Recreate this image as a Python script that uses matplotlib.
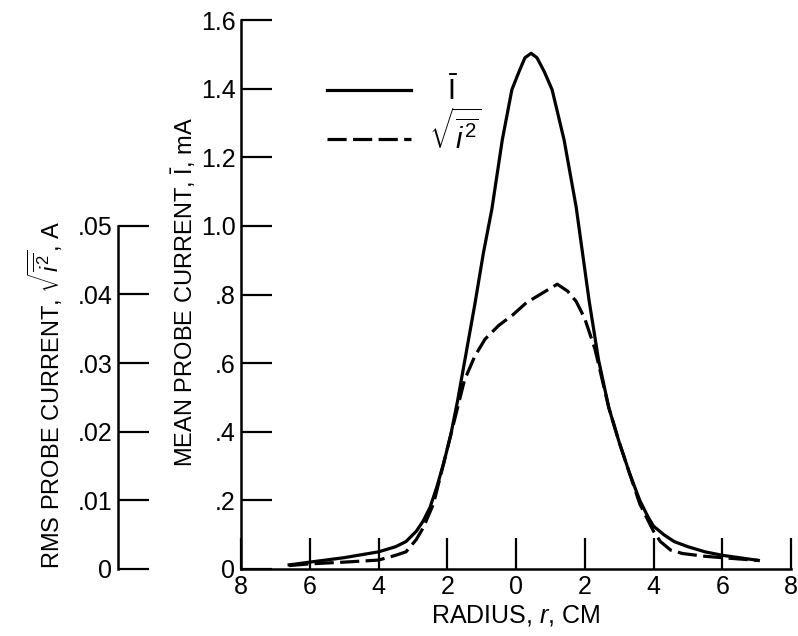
import matplotlib.pyplot as plt

plt.rcParams['font.family'] = ['Liberation Sans', 'DejaVu Sans']
plt.rcParams['mathtext.fontset'] = 'custom'
plt.rcParams['mathtext.rm'] = 'Liberation Sans'
plt.rcParams['mathtext.it'] = 'Liberation Sans:italic'

# mean probe current, mA
r_mean = [-6.6, -6, -5, -4, -3.5, -3.2, -2.9, -2.7, -2.5, -2.3, -2.1, -1.9, -1.7, -1.45,
          -1.2, -0.95, -0.7, -0.4, -0.12, 0.09, 0.26, 0.44, 0.61, 0.82, 1.05, 1.4, 1.75,
          2.13, 2.4, 2.7, 3.0, 3.3, 3.6, 3.85, 4.0, 4.3, 4.6, 5.0, 5.5, 6.0, 7.05]
i_mean = [0.012, 0.02, 0.033, 0.05, 0.065, 0.08, 0.11, 0.14, 0.18, 0.24, 0.31, 0.39, 0.49, 0.63,
          0.77, 0.92, 1.05, 1.25, 1.397, 1.45, 1.49, 1.503, 1.49, 1.45, 1.397, 1.25, 1.055,
          0.78, 0.61, 0.47, 0.37, 0.28, 0.20, 0.15, 0.125, 0.10, 0.08, 0.065, 0.05, 0.04, 0.025]

# rms probe current, A
r_rms = [-6.6, -6, -5, -4, -3.5, -3.2, -2.9, -2.7, -2.4, -2.1, -1.8, -1.5, -1.2, -0.9, -0.5,
         -0.1, 0.3, 0.7, 1.2, 1.5, 1.75, 2.0, 2.3, 2.7, 3.0, 3.3, 3.6, 3.85, 4.0, 4.2, 4.5,
         4.85, 5.5, 6.0, 7.05]
i_rms = [0.0005, 0.00075, 0.001, 0.0013, 0.002, 0.0025, 0.0043, 0.006, 0.0095, 0.0155, 0.0215,
         0.0275, 0.031, 0.0335, 0.0355, 0.037, 0.0388, 0.040, 0.0415, 0.0405, 0.039, 0.0365,
         0.032, 0.0235, 0.0185, 0.014, 0.0095, 0.007, 0.0055, 0.004, 0.00275, 0.00225,
         0.00185, 0.00165, 0.00125]

x_ticks = [-8, -6, -4, -2, 0, 2, 4, 6, 8]
x_labels = ['8', '6', '4', '2', '0', '2', '4', '6', '8']
mean_ticks = [0, 0.2, 0.4, 0.6, 0.8, 1.0, 1.2, 1.4, 1.6]
mean_labels = ['0', '.2', '.4', '.6', '.8', '1.0', '1.2', '1.4', '1.6']
rms_ticks = [0, 0.01, 0.02, 0.03, 0.04, 0.05]
rms_labels = ['0', '.01', '.02', '.03', '.04', '.05']

fs = 17
tfs = 18

fig = plt.figure(figsize=(7.98, 6.36), dpi=100)
ax = fig.add_axes([241 / 798, 67 / 636, 550 / 798, 549 / 636])

ax.plot(r_mean, i_mean, color='black', lw=2.3, label=r'$\hspace{0.75}\bar{\mathrm{I}}$')

ax.set_xlim(-8, 8)
ax.set_ylim(0, 1.6)
for s in ['top', 'right']:
    ax.spines[s].set_visible(False)
for s in ['left', 'bottom']:
    ax.spines[s].set_linewidth(1.8)
ax.set_xticks(x_ticks)
ax.set_xticklabels(x_labels)
ax.set_yticks(mean_ticks)
ax.set_yticklabels(mean_labels)
ax.tick_params(direction='in', length=22, width=1.6, labelsize=tfs, pad=4)
ax.set_xlabel('RADIUS, $r$, CM', fontsize=18, labelpad=3)
ax.set_ylabel(r'MEAN PROBE CURRENT, $\bar{\mathrm{I}}$, mA', fontsize=fs, va='center')
ax.yaxis.set_label_coords(-0.104, 0.505)

# second scale for the rms current
ax2 = ax.twinx()
ax2.plot(r_rms, i_rms, color='black', lw=2.3, dashes=(6, 2), label=r'$\sqrt{\overline{i^2}}$')
ax2.set_ylim(0, 0.08)
for s in ['top', 'right', 'bottom']:
    ax2.spines[s].set_visible(False)
ax2.spines['left'].set_visible(True)
ax2.spines['left'].set_position(('axes', -123 / 550))
ax2.spines['left'].set_bounds(0, 0.05)
ax2.spines['left'].set_linewidth(1.8)
ax2.yaxis.set_ticks_position('left')
ax2.yaxis.set_label_position('left')
ax2.set_yticks(rms_ticks)
ax2.set_yticklabels(rms_labels)
ax2.tick_params(direction='in', length=22, width=1.6, labelsize=tfs, pad=4)
ax2.set_ylabel(r'RMS PROBE CURRENT, $\sqrt{\overline{i^2}}$, A', fontsize=fs, va='center')
ax2.yaxis.set_label_coords(-0.355, 0.317)

h1, l1 = ax.get_legend_handles_labels()
h2, l2 = ax2.get_legend_handles_labels()
ax2.legend(h1 + h2, l1 + l2, loc='upper left', bbox_to_anchor=(0.156, 0.897),
           frameon=False, fontsize=21, handlelength=2.9, handletextpad=0.6,
           labelspacing=0.1, borderpad=0, borderaxespad=0)

fig.savefig('out.png', dpi=100)
